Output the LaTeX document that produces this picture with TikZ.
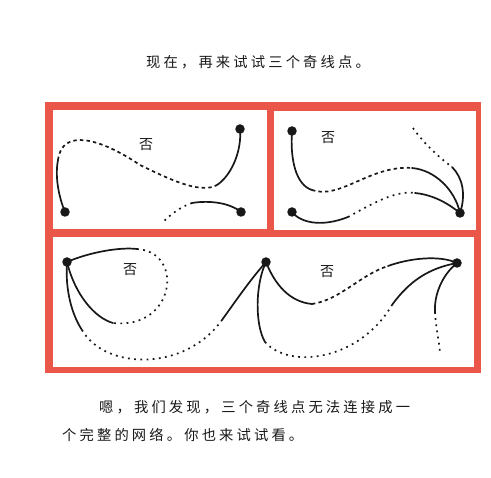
\documentclass[tikz,border=0pt]{standalone}
\usepackage{fontspec}
\newfontfamily\cjk{Noto Sans CJK SC}
\newfontfamily\cjkwide{Noto Sans CJK SC}[LetterSpace=22]
\usetikzlibrary{positioning}
\definecolor{framered}{RGB}{234,86,72}
\definecolor{inkgray}{RGB}{24,24,24}
\tikzset{
  oddpt/.style={circle,fill=inkgray,inner sep=0pt,minimum size=9.5pt},
  solidseg/.style={draw=inkgray,line width=1.7pt,line cap=round},
  dashseg/.style={draw=inkgray,line width=1.7pt,dash pattern=on 3.4pt off 3.2pt},
  dotseg/.style={draw=inkgray,line width=1.7pt,dash pattern=on 1.8pt off 4.4pt},
  nolabel/.style={font=\cjk\fontsize{14}{14}\selectfont,text=inkgray,inner sep=0pt},
  captext/.style={font=\cjkwide\fontsize{14.3}{15}\selectfont,text=inkgray,
    inner sep=0pt,anchor=west},
}

\begin{document}
\begin{tikzpicture}[x=1pt,y=-1pt]
  \useasboundingbox (0,0) rectangle (491,478);
  % frame and panels
  \fill[framered] (45,102) rectangle (481,373);
  \fill[white] (53,110) rectangle (267,229);
  \fill[white] (274,111) rectangle (476,230);
  \fill[white] (53,237) rectangle (474,367);

  \node[captext] (title) at (146,62) {现在，再来试试三个奇线点。};

  % top left
  \node[nolabel] (no1) at (146,145) {否};
  \node[oddpt] (a1) at (65,212) {};
  \node[oddpt] (a2) at (240,129) {};
  \node[oddpt] (a3) at (241,212) {};
  \coordinate (a1s) at (58,160);
  \coordinate (a1m) at (140,165);
  \coordinate (a2s) at (217,185);
  \coordinate (a3s) at (192,203);
  \coordinate (a3e) at (162,223);
  \draw[solidseg] (a1.center) .. controls (58,195) and (55,175) .. (a1s);
  \draw[dashseg] (a1s) .. controls (62,128) and (100,138) .. (a1m)
    .. controls (165,177) and (200,195) .. (a2s);
  \draw[solidseg] (a2s) .. controls (232,175) and (242,150) .. (a2.center);
  \draw[solidseg] (a3.center) .. controls (230,203) and (210,200) .. (a3s);
  \draw[dotseg] (a3s) .. controls (180,207) and (170,215) .. (a3e);

  % top right
  \node[nolabel] (no2) at (328,138) {否};
  \node[oddpt] (b1) at (292,131) {};
  \node[oddpt] (b2) at (292,212) {};
  \node[oddpt] (b3) at (460,213) {};
  \coordinate (b1s) at (312,190);
  \coordinate (b1e) at (412,168);
  \coordinate (b2s) at (348,217);
  \coordinate (b2e) at (415,193);
  \coordinate (b3t) at (413,128);
  \coordinate (b3s) at (452,167);
  \draw[solidseg] (b1.center) .. controls (290,160) and (296,185) .. (b1s);
  \draw[dashseg] (b1s) .. controls (340,200) and (370,165) .. (b1e);
  \draw[solidseg] (b1e) .. controls (435,170) and (455,190) .. (b3.center);
  \draw[solidseg] (b2.center) .. controls (300,222) and (320,228) .. (b2s);
  \draw[dotseg] (b2s) .. controls (370,205) and (395,190) .. (b2e);
  \draw[solidseg] (b2e) .. controls (435,195) and (450,205) .. (b3.center);
  \draw[dotseg] (b3t) .. controls (425,145) and (440,158) .. (b3s);
  \draw[solidseg] (b3s) .. controls (463,178) and (466,195) .. (b3.center);

  % bottom
  \node[nolabel] (no3) at (130,270) {否};
  \node[nolabel] (no4) at (327,272) {否};
  \node[oddpt] (c1) at (67,262) {};
  \node[oddpt] (c2) at (266,262) {};
  \node[oddpt] (c3) at (457,263) {};
  \coordinate (c1a) at (137,249);
  \coordinate (c1b) at (113,323);
  \coordinate (c1c) at (82,330);
  \coordinate (c2a) at (222,320);
  \coordinate (c2b) at (265,342);
  \coordinate (c2c) at (392,305);
  \coordinate (c2d) at (312,304);
  \coordinate (c2e) at (388,266);
  \coordinate (c3a) at (435,312);
  \coordinate (c3b) at (440,355);
  \draw[solidseg] (c1.center) .. controls (90,252) and (120,247) .. (c1a);
  \draw[dotseg] (c1a) .. controls (185,252) and (175,330) .. (c1b);
  \draw[solidseg] (c1b) .. controls (95,318) and (75,295) .. (c1.center);
  \draw[solidseg] (c1.center) .. controls (65,290) and (72,315) .. (c1c);
  \draw[dotseg] (c1c) .. controls (105,370) and (185,372) .. (c2a);
  \draw[solidseg] (c2a) .. controls (235,302) and (250,280) .. (c2.center);
  \draw[solidseg] (c2.center) .. controls (255,285) and (255,325) .. (c2b);
  \draw[dotseg] (c2b) .. controls (290,370) and (360,360) .. (c2c);
  \draw[solidseg] (c2c) .. controls (410,280) and (430,268) .. (c3.center);
  \draw[solidseg] (c2.center) .. controls (275,285) and (290,302) .. (c2d);
  \draw[dashseg] (c2d) .. controls (340,300) and (360,275) .. (c2e);
  \draw[solidseg] (c2e) .. controls (410,258) and (440,255) .. (c3.center);
  \draw[solidseg] (c3.center) .. controls (442,275) and (434,295) .. (c3a);
  \draw[dotseg] (c3a) .. controls (436,330) and (440,345) .. (c3b);

  \node[captext] (line1) at (99,407) {嗯，我们发现，三个奇线点无法连接成一};
  \node[captext] (line2) at (62,435) {个完整的网络。你也来试试看。};
\end{tikzpicture}
\end{document}
